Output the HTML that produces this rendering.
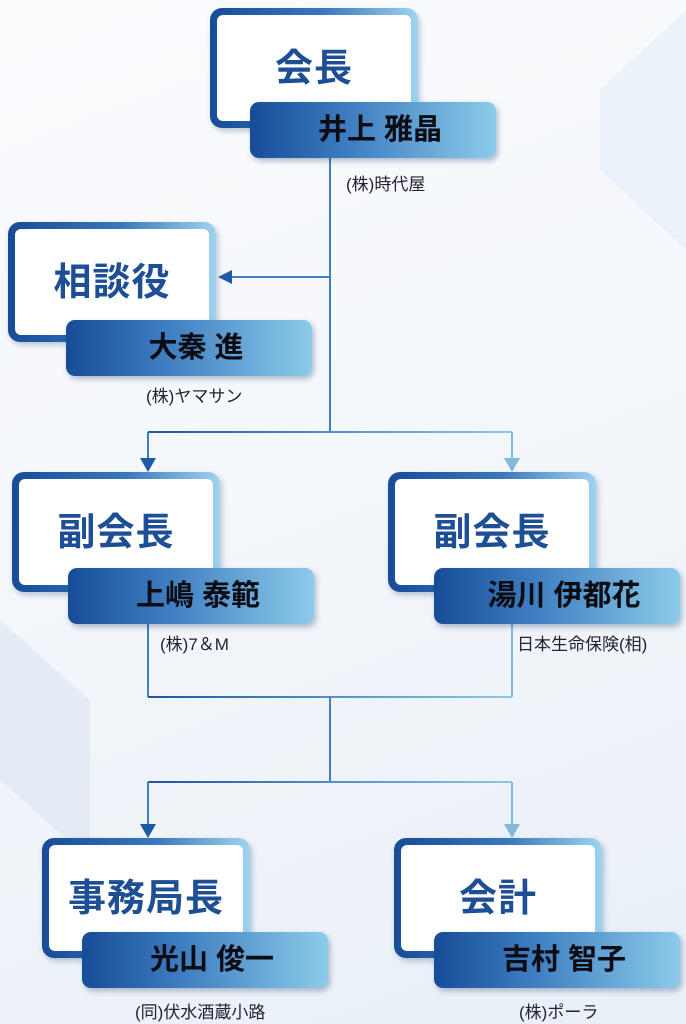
<!DOCTYPE html>
<html><head><meta charset="utf-8"><style>
body{margin:0;width:686px;height:1024px;overflow:hidden;position:relative;font-family:"Liberation Sans","Noto Sans CJK JP",sans-serif;background:linear-gradient(160deg,#fbfcfe 0%,#f1f5fa 60%,#e8eff7 100%);}
.box{position:absolute;width:208px;height:120px;box-sizing:border-box;border-radius:12px;padding:7px;background:linear-gradient(90deg,#174c98 0%,#3b78bb 55%,#9fd3ef 100%);box-shadow:2px 3px 6px rgba(0,40,90,.25);}
.box .in{width:100%;height:100%;background:#fff;border-radius:6px;box-sizing:border-box;padding-top:22px;text-align:center;font-size:38px;font-weight:bold;color:#1e4f95;letter-spacing:1px;}
.bar{position:absolute;width:246px;height:56px;border-radius:9px;background:linear-gradient(90deg,#174c98 0%,#3d7dc0 40%,#8ccbea 100%);box-shadow:2px 3px 6px rgba(0,40,90,.3);text-align:center;line-height:56px;font-size:29px;font-weight:bold;color:#0c0c14;padding-left:14px;box-sizing:border-box;}
.co{position:absolute;font-size:17px;color:#223;white-space:nowrap;}
svg{position:absolute;left:0;top:0;}
</style></head><body>
<svg width="686" height="1024">
<defs><linearGradient id="g" gradientUnits="userSpaceOnUse" x1="148" y1="0" x2="512" y2="0"><stop offset="0" stop-color="#1d55a0"/><stop offset="1" stop-color="#8cc8e8"/></linearGradient></defs>
<polygon points="600,90 686,10 686,250 600,170" fill="#e3ecf6" opacity=".6"/>
<polygon points="0,620 90,700 90,860 0,780" fill="#dbe6f2" opacity=".6"/>
<g stroke="#3f7ec0" stroke-width="2" fill="none">
<line x1="330" y1="158" x2="330" y2="432"/>
<line x1="330" y1="277" x2="228" y2="277"/>
<path d="M148 432 H512" stroke="url(#g)"/>
<line x1="148" y1="432" x2="148" y2="462"/>
<line x1="512" y1="432" x2="512" y2="462" stroke="#7fb9e0"/>
<line x1="148" y1="624" x2="148" y2="697"/>
<line x1="512" y1="624" x2="512" y2="697" stroke="#7fb9e0"/>
<path d="M148 697 H512" stroke="url(#g)"/>
<line x1="330" y1="697" x2="330" y2="782"/>
<path d="M148 782 H512" stroke="url(#g)"/>
<line x1="148" y1="782" x2="148" y2="828"/>
<line x1="512" y1="782" x2="512" y2="828" stroke="#7fb9e0"/>
</g>
<polygon points="218,277 232,270 232,284" fill="#1e5aa5"/>
<polygon points="148,472 140,458 156,458" fill="#1e5aa5"/>
<polygon points="512,472 504,458 520,458" fill="#7fb9e0"/>
<polygon points="148,838 140,824 156,824" fill="#1e5aa5"/>
<polygon points="512,838 504,824 520,824" fill="#7fb9e0"/>
</svg>

<div class="box" style="left:210px;top:8px"><div class="in">会長</div></div>
<div class="bar" style="left:250px;top:102px">井上 雅晶</div>
<div class="co" style="left:346px;top:170px">(株)時代屋</div>

<div class="box" style="left:8px;top:222px"><div class="in">相談役</div></div>
<div class="bar" style="left:66px;top:320px">大秦 進</div>
<div class="co" style="left:146px;top:382px">(株)ヤマサン</div>

<div class="box" style="left:12px;top:472px"><div class="in">副会長</div></div>
<div class="bar" style="left:68px;top:568px">上嶋 泰範</div>
<div class="co" style="left:160px;top:630px">(株)7＆M</div>

<div class="box" style="left:388px;top:472px"><div class="in">副会長</div></div>
<div class="bar" style="left:434px;top:568px">湯川 伊都花</div>
<div class="co" style="left:517px;top:630px">日本生命保険(相)</div>

<div class="box" style="left:42px;top:838px"><div class="in">事務局長</div></div>
<div class="bar" style="left:82px;top:932px">光山 俊一</div>
<div class="co" style="left:135px;top:998px">(同)伏水酒蔵小路</div>

<div class="box" style="left:394px;top:838px"><div class="in">会計</div></div>
<div class="bar" style="left:434px;top:932px">吉村 智子</div>
<div class="co" style="left:519px;top:998px">(株)ポーラ</div>
</body></html>
